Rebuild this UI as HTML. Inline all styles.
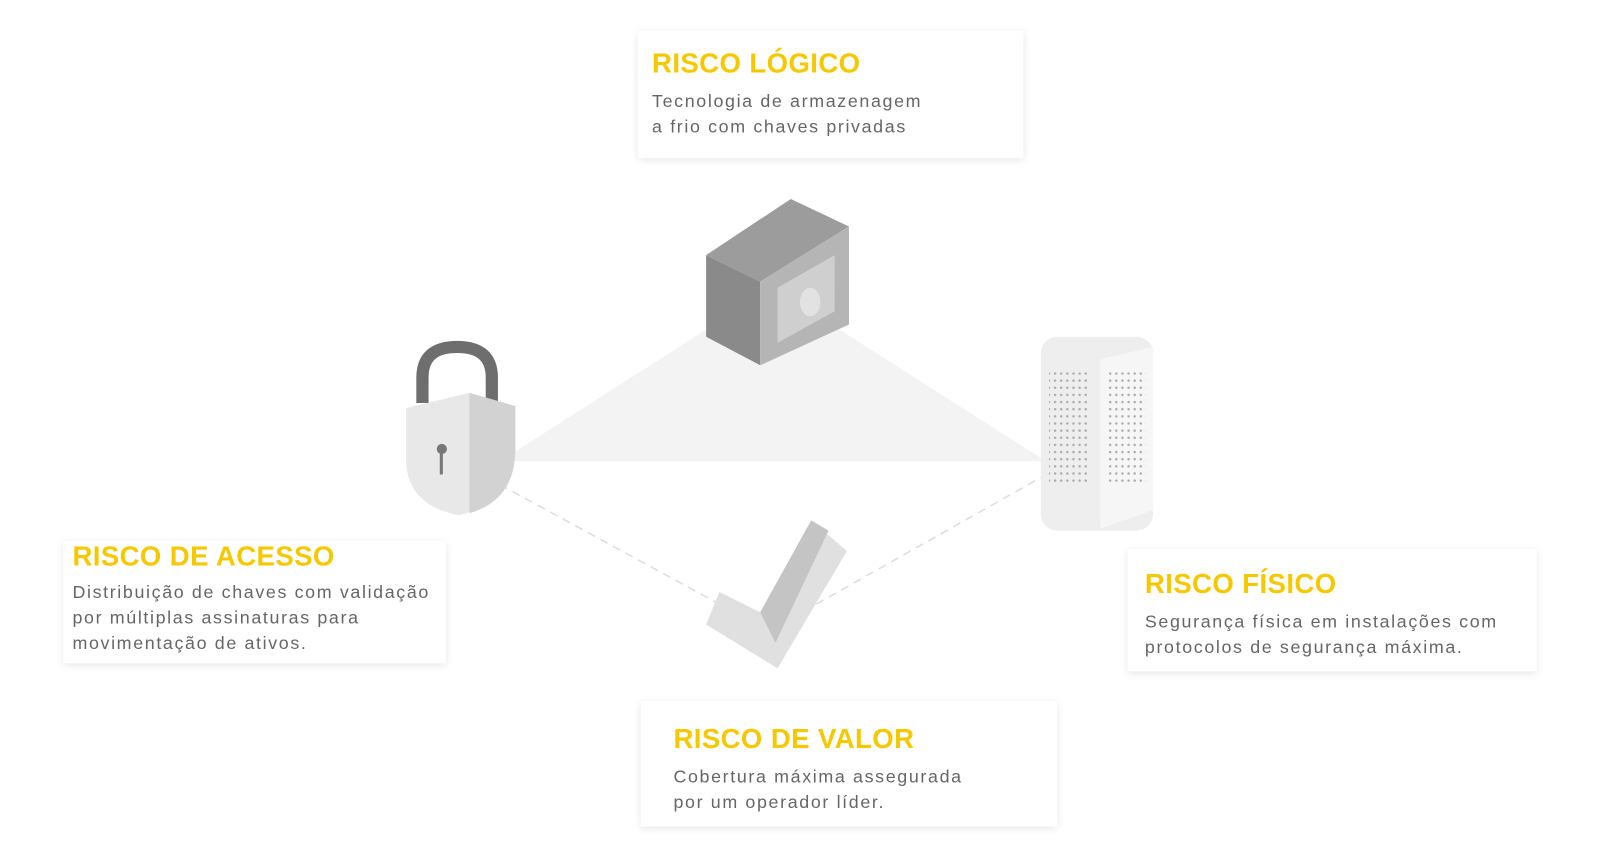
<!DOCTYPE html>
<html><head><meta charset="utf-8"><style>
body{margin:0;width:1600px;height:852px;background:#fff;position:relative;overflow:hidden;font-family:"Liberation Sans",sans-serif}
#w{position:absolute;left:0;top:0;width:1568px;height:835px;transform:scale(1.0204);transform-origin:0 0}
.box{position:absolute;background:#fff;box-shadow:0 2px 8px rgba(0,0,0,0.10)}
.box h3{margin:0;color:#f6c800;font-size:27px;font-weight:bold;letter-spacing:0.4px;line-height:30px}
.box p{margin:10px 0 0;color:#666;font-size:17.5px;line-height:25px;letter-spacing:1.6px}
</style></head><body><div id="w">
<svg width="1568" height="835" style="position:absolute;left:0;top:0">
<polygon points="490,452 700,318 815,318 1025,452" fill="#f3f3f3"/>
<line x1="490" y1="475" x2="705" y2="592" stroke="#ddd" stroke-width="1.5" stroke-dasharray="8,6"/>
<line x1="800" y1="592" x2="1020" y2="468" stroke="#ddd" stroke-width="1.5" stroke-dasharray="8,6"/>
<polygon points="692,250 745,276 745,358 692,330" fill="#8a8a8a"/>
<polygon points="692,250 775,195 832,222 745,276" fill="#9c9c9c"/>
<polygon points="745,276 832,222 832,318 745,358" fill="#b5b5b5"/>
<polygon points="762,282 818,250 818,305 762,336" fill="#cfcfcf"/>
<ellipse cx="794" cy="296" rx="10" ry="14" fill="#e2e2e2"/>
<path d="M414,395 L414,370 Q414,340 448,340 Q482,340 482,370 L482,395" fill="none" stroke="#6e6e6e" stroke-width="12"/>
<path d="M398,400 L460,385 L505,398 L505,440 Q505,490 450,505 Q398,495 398,450 Z" fill="#e8e8e8"/>
<path d="M460,385 L505,398 L505,440 Q505,490 460,503 Z" fill="#d2d2d2"/>
<circle cx="433" cy="440" r="5" fill="#777"/>
<rect x="431" y="440" width="3" height="25" fill="#777"/>
<rect x="1020" y="330" width="110" height="190" rx="16" fill="#eeeeee"/>
<polygon points="1078,352 1130,340 1130,500 1078,518" fill="#f6f6f6"/>
<defs><pattern id="d" width="6" height="7" patternUnits="userSpaceOnUse"><circle cx="2" cy="2" r="1.2" fill="#aaa"/></pattern></defs>
<rect x="1028" y="365" width="40" height="110" fill="url(#d)"/>
<rect x="1085" y="365" width="38" height="110" fill="url(#d)"/>
<polygon points="795,510 830,540 762,655 692,612 705,580 745,600" fill="#e0e0e0"/>
<polygon points="795,510 812,520 760,630 745,600" fill="#c4c4c4"/>
</svg>
<div class="box" style="left:625px;top:30px;height:125px;padding:17px 0 0 14px;box-sizing:border-box;width:378px"><h3>RISCO LÓGICO</h3><p>Tecnologia de armazenagem<br>a frio com chaves privadas</p></div>
<div class="box" style="left:62px;top:530px;width:375px;height:120px;padding:0 0 0 9px;box-sizing:border-box"><h3 style="margin-top:0">RISCO DE ACESSO</h3><p style="margin-top:8px">Distribuição de chaves com validação<br>por múltiplas assinaturas para<br>movimentação de ativos.</p></div>
<div class="box" style="left:1105px;top:538px;width:401px;height:120px;padding:19px 0 0 17px;box-sizing:border-box"><h3>RISCO FÍSICO</h3><p>Segurança física em instalações com<br>protocolos de segurança máxima.</p></div>
<div class="box" style="left:628px;top:687px;width:408px;height:123px;padding:22px 0 0 32px;box-sizing:border-box"><h3>RISCO DE VALOR</h3><p>Cobertura máxima assegurada<br>por um operador líder.</p></div>
</div></body></html>
